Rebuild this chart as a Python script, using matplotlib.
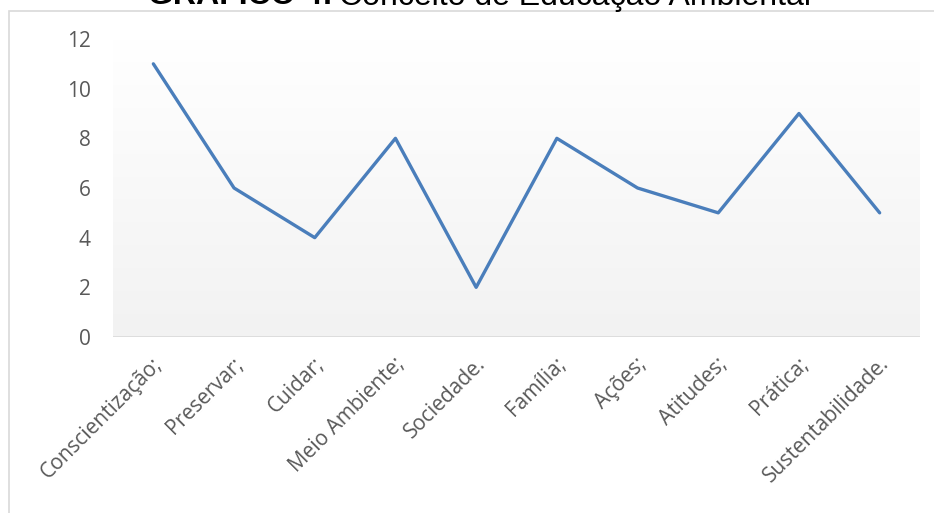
import matplotlib.pyplot as plt
import matplotlib.transforms as mtransforms
import numpy as np
from matplotlib.colors import LinearSegmentedColormap

categorias = ["Conscientização;", "Preservar;", "Cuidar;", "Meio Ambiente;", "Sociedade.",
              "Família;", "Ações;", "Atitudes;", "Prática;", "Sustentabilidade."]
valores = [11, 6, 4, 8, 2, 8, 6, 5, 9, 5]
y_ticks = [0, 2, 4, 6, 8, 10, 12]

W, H = 934, 513
fig = plt.figure(figsize=(W / 100, H / 100), dpi=100)

# moldura do gráfico (cortada à direita e embaixo)
moldura = plt.Rectangle((9 / W, -0.1), 1.2, (H - 11) / H + 0.1, transform=fig.transFigure,
                        fill=False, edgecolor="#d9d9d9", linewidth=1.2)
fig.patches.append(moldura)

ax = fig.add_axes([113 / W, (H - 337) / H, (920 - 113) / W, (337 - 39) / H])
x = np.arange(len(categorias))

# fundo em degradê
cmap = LinearSegmentedColormap.from_list("grad", ["#f2f2f2", "#ffffff"])
grad = np.linspace(0, 1, 256).reshape(-1, 1)
ax.imshow(grad, cmap=cmap, aspect="auto", extent=(-0.5, len(categorias) - 0.5, 0, 12),
          origin="lower", zorder=0)

ax.plot(x, valores, color="#4a7ebb", linewidth=2.4, solid_capstyle="round",
        solid_joinstyle="round", zorder=3)
ax.axhline(0, color="#d9d9d9", linewidth=1.2, zorder=2)

ax.set_xlim(-0.5, len(categorias) - 0.5)
ax.set_ylim(0, 12)
ax.set_yticks(y_ticks)
ax.set_xticks(x)
ax.set_xticklabels(categorias, rotation=45, ha="right", va="center", rotation_mode="anchor")
for s in ax.spines.values():
    s.set_visible(False)
ax.tick_params(axis="both", length=0, labelsize=15, labelcolor="#595959")
ax.tick_params(axis="y", pad=16)
ax.tick_params(axis="x", pad=17)

offset = mtransforms.ScaledTranslation(6 / 100, 0, fig.dpi_scale_trans)
for lbl in ax.get_xticklabels():
    lbl.set_fontfamily("Open Sans")
    lbl.set_transform(lbl.get_transform() + offset)
for lbl in ax.get_yticklabels():
    lbl.set_fontfamily("Open Sans")

# título (cortado no topo)
t1 = fig.text(148 / W, (H - 4.5) / H, "GRÁFICO 4:", fontsize=23, fontweight="bold",
              family="Liberation Sans", va="baseline", ha="left")
fig.canvas.draw()
bb = t1.get_window_extent()
fig.text(bb.x1 / W + 6 / W, (H - 4.5) / H, "Conceito de Educação Ambiental", fontsize=23,
         family="Liberation Sans", va="baseline", ha="left")

fig.savefig("out.png", dpi=100)
